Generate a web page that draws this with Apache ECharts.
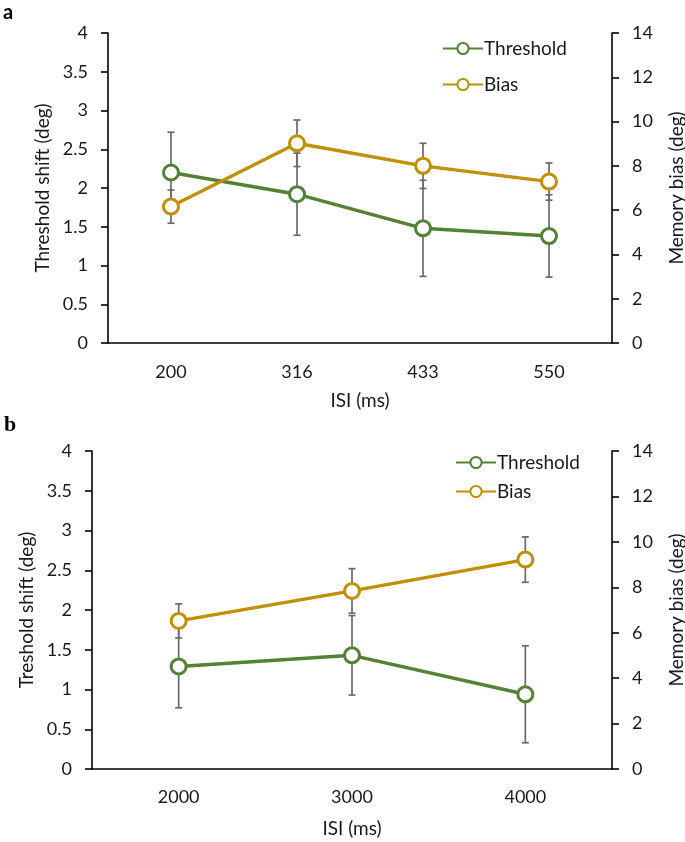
<!DOCTYPE html>
<html>
<head>
<meta charset="utf-8">
<script src="https://cdn.jsdelivr.net/npm/echarts@6/dist/echarts.min.js"></script>
<style>
html,body{margin:0;padding:0;background:#fff;}
#main{width:685px;height:842px;}
</style>
</head>
<body>
<div id="main"></div>
<script>
// Panel a
const categoriesA = ['200', '316', '433', '550'];
const thresholdA = [2.2, 1.92, 1.48, 1.38];
const thresholdErrA = [0.52, 0.53, 0.62, 0.53];
const biasA = [6.16, 9.02, 8.0, 7.29];
const biasErrA = [0.75, 1.05, 1.02, 0.84];
// Panel b
const categoriesB = ['2000', '3000', '4000'];
const thresholdB = [1.29, 1.43, 0.94];
const thresholdErrB = [0.52, 0.50, 0.61];
const biasB = [6.52, 7.84, 9.22];
const biasErrB = [0.75, 0.98, 1.0];
// Axis ranges
const leftMax = 4, leftInterval = 0.5;
const rightMax = 14, rightInterval = 2;

const GREEN = '#548235';
const GOLD = '#BF9000';
const FONT = 'Lato';
const TXT = '#1a1a1a';

function errData(vals, errs) {
  return vals.map((v, i) => [i, v - errs[i], v + errs[i]]);
}
function errRender(params, api) {
  const x = api.value(0);
  const p1 = api.coord([x, api.value(2)]);
  const p2 = api.coord([x, api.value(1)]);
  const hw = 3.5;
  const st = {stroke: '#6b6b6b', lineWidth: 1.7};
  return {type: 'group', children: [
    {type: 'line', shape: {x1: p1[0], y1: p1[1], x2: p2[0], y2: p2[1]}, style: st},
    {type: 'line', shape: {x1: p1[0] - hw, y1: p1[1], x2: p1[0] + hw, y2: p1[1]}, style: st},
    {type: 'line', shape: {x1: p2[0] - hw, y1: p2[1], x2: p2[0] + hw, y2: p2[1]}, style: st}
  ]};
}

const axisLineStyle = {show: true, lineStyle: {color: '#000', width: 1.6}};
const tickStyle = {show: true, inside: false, length: 7, lineStyle: {color: '#000', width: 1.6}};
const labelStyle = {fontFamily: FONT, fontSize: 18, color: TXT, margin: 20};
const nameStyle = {fontFamily: FONT, fontSize: 19, color: TXT};

function yAxes(gridIndex, leftName, leftGap, rightGap) {
  return [
    {type: 'value', gridIndex, min: 0, max: leftMax, interval: leftInterval, position: 'left',
     axisLine: axisLineStyle, axisTick: tickStyle, splitLine: {show: false},
     axisLabel: labelStyle, name: leftName, nameLocation: 'middle', nameGap: leftGap,
     nameTextStyle: nameStyle},
    {type: 'value', gridIndex, min: 0, max: rightMax, interval: rightInterval, position: 'right',
     axisLine: axisLineStyle, axisTick: tickStyle, splitLine: {show: false},
     axisLabel: labelStyle, name: 'Memory bias (deg)', nameLocation: 'middle', nameGap: rightGap,
     nameTextStyle: nameStyle}
  ];
}
function xAxis(gridIndex, cats, margin, nameGap) {
  return {type: 'category', gridIndex, data: cats, boundaryGap: true,
    axisLine: axisLineStyle, axisTick: {show: false},
    axisLabel: Object.assign({}, labelStyle, {margin}),
    name: 'ISI (ms)', nameLocation: 'middle', nameGap, nameTextStyle: nameStyle};
}
function lineSeries(name, data, color, xi, yi) {
  return {type: 'line', name, data, xAxisIndex: xi, yAxisIndex: yi, z: 5,
    symbol: 'circle', symbolSize: 15, showSymbol: true,
    lineStyle: {color, width: 3.4},
    itemStyle: {color: '#fff', borderColor: color, borderWidth: 3},
    emphasis: {disabled: true}};
}
function errSeries(vals, errs, xi, yi) {
  return {type: 'custom', xAxisIndex: xi, yAxisIndex: yi, z: 2,
    renderItem: errRender, data: errData(vals, errs), silent: true};
}
function legend(left, top, gap) {
  return {orient: 'vertical', left, top, itemGap: gap, itemWidth: 40, itemHeight: 14,
    data: ['Threshold', 'Bias'], selectedMode: false,
    textStyle: {fontFamily: FONT, fontSize: 19, color: TXT, padding: [0, 0, 0, -4]}};
}

const chart = echarts.init(document.getElementById('main'), null, {renderer: 'canvas'});
chart.setOption({
  animation: false,
  backgroundColor: '#fff',
  color: [GREEN, GOLD],
  grid: [
    {left: 108, right: 73, top: 33, height: 310, containLabel: false, outerBoundsMode: 'none'},
    {left: 92, right: 73, top: 451, height: 318, containLabel: false, outerBoundsMode: 'none'}
  ],
  xAxis: [xAxis(0, categoriesA, 20, 48), xAxis(1, categoriesB, 19, 50)],
  yAxis: yAxes(0, 'Threshold shift (deg)', 52, 55).concat(yAxes(1, 'Treshold shift (deg)', 56, 55)),
  legend: [legend(437, 34, 17), legend(450, 448, 10)],
  graphic: [
    {type: 'text', left: 3, top: 3, style: {text: 'a', font: 'bold 20px Lato', fill: '#000'}},
    {type: 'text', left: 4, top: 414, style: {text: 'b', font: 'bold 22px "Liberation Serif"', fill: '#000'}}
  ],
  series: [
    errSeries(thresholdA, thresholdErrA, 0, 0),
    errSeries(biasA, biasErrA, 0, 1),
    lineSeries('Threshold', thresholdA, GREEN, 0, 0),
    lineSeries('Bias', biasA, GOLD, 0, 1),
    errSeries(thresholdB, thresholdErrB, 1, 2),
    errSeries(biasB, biasErrB, 1, 3),
    lineSeries('Threshold', thresholdB, GREEN, 1, 2),
    lineSeries('Bias', biasB, GOLD, 1, 3)
  ]
});
</script>
</body>
</html>
